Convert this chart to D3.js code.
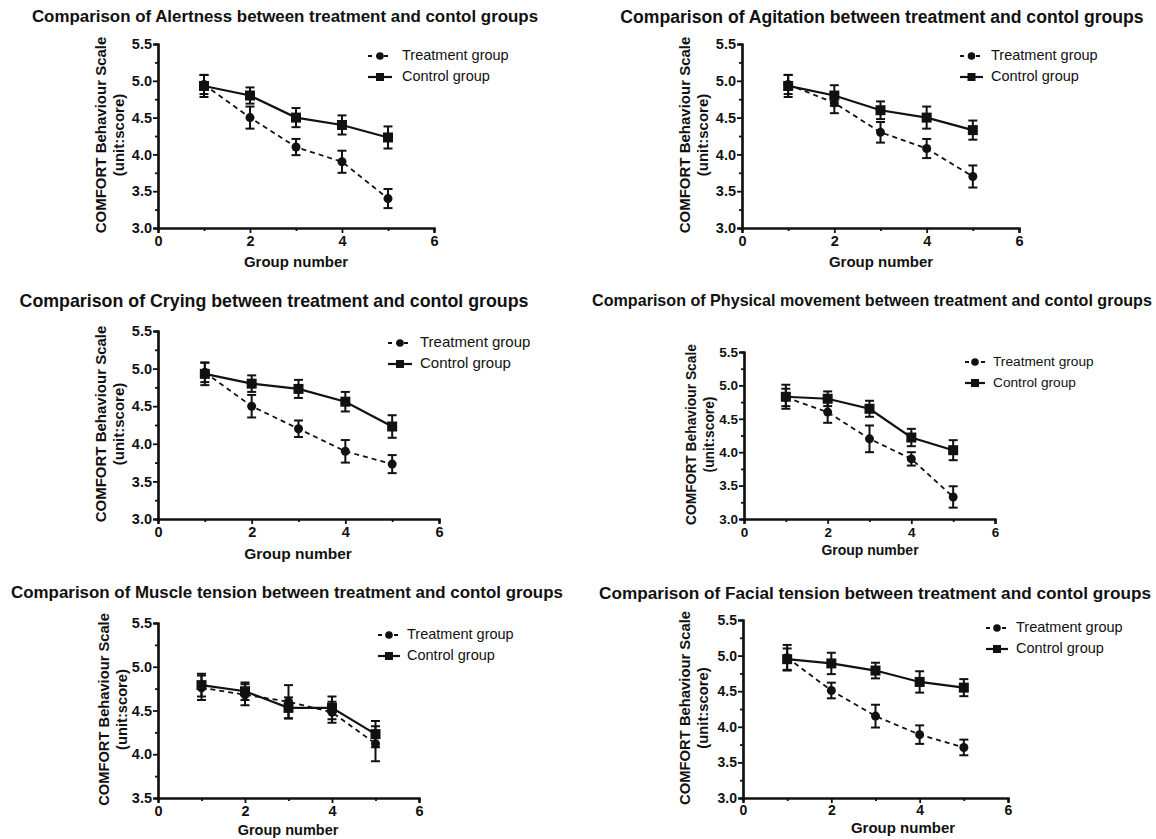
<!DOCTYPE html>
<html><head><meta charset="utf-8">
<script src="https://cdn.jsdelivr.net/npm/d3@7"></script>
<style>
html,body{margin:0;padding:0;background:#fff;}
svg text{font-family:"Liberation Sans",Arial,sans-serif;fill:#111;}
</style></head>
<body>
<svg id="c" width="1156" height="839"></svg>
<script>
// ---------- DATA ----------
const groups = [1, 2, 3, 4, 5];
const seriesNames = ["Treatment group", "Control group"];
const titles = [
  "Comparison of Alertness between treatment and contol groups",
  "Comparison of Agitation between treatment and contol groups",
  "Comparison of Crying between treatment and contol groups",
  "Comparison of Physical movement between treatment and contol groups",
  "Comparison of Muscle tension between treatment and contol groups",
  "Comparison of Facial tension between treatment and contol groups"
];
const xAxisLabel = "Group number";
const yAxisLabel1 = "COMFORT Behaviour Scale";
const yAxisLabel2 = "(unit:score)";
const xTicks = [0, 2, 4, 6];
const xMinorTicks = [1, 3, 5];
const yTicksFull = [3.0, 3.5, 4.0, 4.5, 5.0, 5.5];
const yTicksMuscle = [3.5, 4.0, 4.5, 5.0, 5.5];

const alertTreat = [4.95, 4.50, 4.10, 3.90, 3.40];
const alertTreatErr = [0.13, 0.15, 0.11, 0.15, 0.13];
const alertCtrl = [4.93, 4.80, 4.50, 4.40, 4.23];
const alertCtrlErr = [0.15, 0.11, 0.13, 0.13, 0.15];

const agitTreat = [4.95, 4.70, 4.30, 4.08, 3.70];
const agitTreatErr = [0.13, 0.14, 0.14, 0.13, 0.15];
const agitCtrl = [4.93, 4.80, 4.60, 4.50, 4.33];
const agitCtrlErr = [0.15, 0.14, 0.12, 0.15, 0.13];

const cryTreat = [4.95, 4.50, 4.20, 3.90, 3.73];
const cryTreatErr = [0.13, 0.15, 0.11, 0.15, 0.12];
const cryCtrl = [4.93, 4.80, 4.73, 4.56, 4.23];
const cryCtrlErr = [0.15, 0.11, 0.12, 0.13, 0.15];

const physTreat = [4.82, 4.60, 4.20, 3.90, 3.33];
const physTreatErr = [0.13, 0.16, 0.20, 0.10, 0.16];
const physCtrl = [4.83, 4.80, 4.65, 4.22, 4.03];
const physCtrlErr = [0.18, 0.11, 0.12, 0.13, 0.15];

const muscTreat = [4.76, 4.68, 4.60, 4.48, 4.12];
const muscTreatErr = [0.14, 0.12, 0.19, 0.12, 0.20];
const muscCtrl = [4.79, 4.72, 4.53, 4.53, 4.23];
const muscCtrlErr = [0.13, 0.10, 0.12, 0.13, 0.15];

const faceTreat = [4.97, 4.51, 4.15, 3.89, 3.71];
const faceTreatErr = [0.18, 0.11, 0.16, 0.13, 0.11];
const faceCtrl = [4.95, 4.89, 4.79, 4.63, 4.55];
const faceCtrlErr = [0.15, 0.15, 0.11, 0.15, 0.12];

const panelData = [
  {t: alertTreat, te: alertTreatErr, c: alertCtrl, ce: alertCtrlErr, yt: yTicksFull},
  {t: agitTreat, te: agitTreatErr, c: agitCtrl, ce: agitCtrlErr, yt: yTicksFull},
  {t: cryTreat, te: cryTreatErr, c: cryCtrl, ce: cryCtrlErr, yt: yTicksFull},
  {t: physTreat, te: physTreatErr, c: physCtrl, ce: physCtrlErr, yt: yTicksFull},
  {t: muscTreat, te: muscTreatErr, c: muscCtrl, ce: muscCtrlErr, yt: yTicksMuscle},
  {t: faceTreat, te: faceTreatErr, c: faceCtrl, ce: faceCtrlErr, yt: yTicksFull}
];

// ---------- LAYOUT ----------
const layouts = [
  {x0:158, x1:434, y0:44,  y1:228, ty:18,  tx:285, tfs:16.9, lx:368, lw:24, ltx:402, ly:56,  leg:14.5, tick:14.5, tp:3, yl:102, ylfs:15,   xly:263, xlx:296, xlfs:15},
  {x0:742, x1:1019,y0:44,  y1:228, ty:18,  tx:882, tfs:17.6, lx:960, lw:23, ltx:991, ly:56,  leg:14.5, tick:14.5, tp:3, yl:686, ylfs:15,   xly:263, xlx:881, xlfs:15},
  {x0:158, x1:439, y0:331, y1:519, ty:302, tx:274, tfs:17.8, lx:388, lw:24, ltx:420, ly:343, leg:15,   tick:14.5, tp:3, yl:102, ylfs:15,   xly:555, xlx:298, xlfs:15.5},
  {x0:744, x1:995, y0:352, y1:519, ty:302, tx:872, tfs:16.1, lx:965, lw:20, ltx:993, ly:362, leg:13.7, tick:13.5, tp:3, yl:692, ylfs:13.8, xly:551, xlx:870, xlfs:14},
  {x0:158, x1:419, y0:623, y1:798, ty:594, tx:287, tfs:16.9, lx:378, lw:22, ltx:407, ly:635, leg:14.5, tick:14.5, tp:3, yl:105, ylfs:14.7, xly:831, xlx:288, xlfs:14.5},
  {x0:743, x1:1008,y0:620, y1:798, ty:594, tx:875, tfs:17.2, lx:986, lw:22, ltx:1016,ly:628, leg:14.5, tick:14,   tp:2, yl:686, ylfs:14.8, xly:829, xlx:903, xlfs:15}
];

const svg = d3.select("#c");

panelData.forEach((d, i) => {
  const L = layouts[i];
  const g = svg.append("g");
  const yDom = [d.yt[0], d.yt[d.yt.length - 1]];
  const x = d3.scaleLinear().domain([0, 6]).range([L.x0, L.x1]);
  const y = d3.scaleLinear().domain(yDom).range([L.y1, L.y0]);

  // title
  g.append("text").attr("x", L.tx).attr("y", L.ty).attr("text-anchor", "middle")
    .attr("dominant-baseline", "middle")
    .style("font-weight", "bold").style("font-size", L.tfs + "px").text(titles[i]);

  const yMinorQ = [];
  d.yt.forEach((v, k) => { if (k < d.yt.length - 1) { yMinorQ.push(v + 0.25); } });

  const yAx = g.append("g").attr("transform", `translate(${L.x0},0)`)
    .call(d3.axisLeft(y).tickValues(d.yt).tickSize(5).tickPadding(1).tickFormat(d3.format(".1f")));
  const yAxMinor = g.append("g").attr("transform", `translate(${L.x0},0)`)
    .call(d3.axisLeft(y).tickValues(yMinorQ).tickSize(3).tickFormat(""));
  const xAx = g.append("g").attr("transform", `translate(0,${L.y1})`)
    .call(d3.axisBottom(x).tickValues(xTicks).tickSize(5).tickPadding(L.tp).tickFormat(d3.format("d")));
  const xAxMinor = g.append("g").attr("transform", `translate(0,${L.y1})`)
    .call(d3.axisBottom(x).tickValues(xMinorTicks).tickSize(3).tickFormat(""));

  [yAx, yAxMinor, xAx, xAxMinor].forEach(a => {
    a.selectAll("path").attr("stroke", "#111").attr("stroke-width", 2.2);
    a.selectAll("line").attr("stroke", "#111").attr("stroke-width", 1.8);
    a.selectAll("text").style("font-size", L.tick + "px").style("font-weight", "bold")
      .style("font-family", '"Liberation Sans",Arial,sans-serif').attr("fill", "#111");
  });

  // axis labels
  g.append("text").attr("x", L.xlx).attr("y", L.xly).attr("text-anchor", "middle")
    .attr("dominant-baseline", "middle")
    .style("font-weight", "bold").style("font-size", L.xlfs + "px").text(xAxisLabel);
  const yc = (L.y0 + L.y1) / 2 - 1;
  g.append("text").attr("transform", `translate(${L.yl},${yc}) rotate(-90)`).attr("text-anchor", "middle")
    .attr("dominant-baseline", "middle")
    .style("font-weight", "bold").style("font-size", L.ylfs + "px").text(yAxisLabel1);
  g.append("text").attr("transform", `translate(${L.yl + 18},${yc}) rotate(-90)`).attr("text-anchor", "middle")
    .attr("dominant-baseline", "middle")
    .style("font-weight", "bold").style("font-size", L.ylfs + "px").text(yAxisLabel2);

  const series = [
    {m: d.t, e: d.te, dash: "5,4", sw: 1.8, sym: "circle"},
    {m: d.c, e: d.ce, dash: null, sw: 2.2, sym: "square"}
  ];
  const line = d3.line().x(p => x(p[0])).y(p => y(p[1]));

  series.forEach(s => {
    const pts = groups.map((gv, k) => [gv, s.m[k], s.e[k]]);
    g.append("path").datum(pts).attr("d", line).attr("fill", "none")
      .attr("stroke", "#111").attr("stroke-width", s.sw)
      .attr("stroke-dasharray", s.dash);
    const eb = g.append("g");
    pts.forEach(p => {
      const cx = x(p[0]);
      eb.append("line").attr("x1", cx).attr("x2", cx).attr("y1", y(p[1] - p[2])).attr("y2", y(p[1] + p[2]))
        .attr("stroke", "#111").attr("stroke-width", 2);
      [p[1] - p[2], p[1] + p[2]].forEach(v => {
        eb.append("line").attr("x1", cx - 4.5).attr("x2", cx + 4.5).attr("y1", y(v)).attr("y2", y(v))
          .attr("stroke", "#111").attr("stroke-width", 2);
      });
      if (s.sym === "circle") {
        eb.append("circle").attr("cx", cx).attr("cy", y(p[1])).attr("r", 4.5).attr("fill", "#111");
      } else {
        eb.append("rect").attr("x", cx - 5).attr("y", y(p[1]) - 5).attr("width", 10).attr("height", 10).attr("fill", "#111");
      }
    });
  });

  // legend
  series.forEach((s, k) => {
    const ly = L.ly + k * 21;
    const lg = g.append("g");
    lg.append("line").attr("x1", L.lx).attr("x2", L.lx + L.lw).attr("y1", ly).attr("y2", ly)
      .attr("stroke", "#111").attr("stroke-width", s.sw).attr("stroke-dasharray", s.dash ? "4,4" : null);
    if (s.sym === "circle") {
      lg.append("circle").attr("cx", L.lx + L.lw / 2).attr("cy", ly).attr("r", 3.8).attr("fill", "#111");
    } else {
      lg.append("rect").attr("x", L.lx + L.lw / 2 - 4).attr("y", ly - 4).attr("width", 8).attr("height", 8).attr("fill", "#111");
    }
    lg.append("text").attr("x", L.ltx).attr("y", ly).attr("dominant-baseline", "middle")
      .style("font-size", L.leg + "px").text(seriesNames[k]);
  });
});
</script>
</body></html>
